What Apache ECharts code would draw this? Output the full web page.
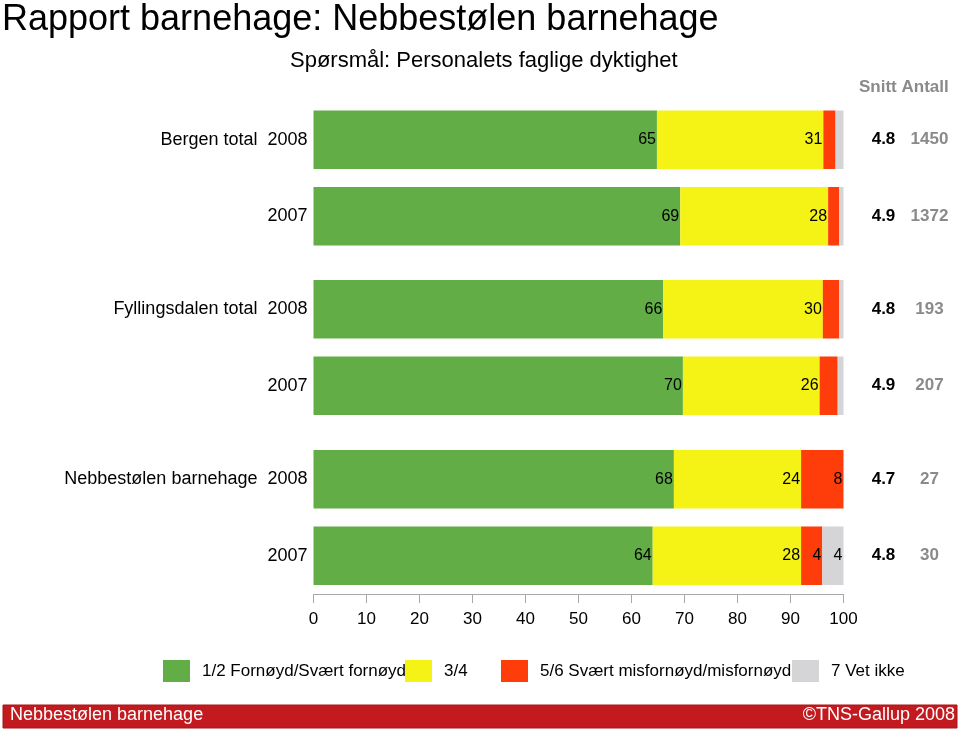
<!DOCTYPE html>
<html>
<head>
<meta charset="utf-8">
<script src="https://cdn.jsdelivr.net/npm/echarts@6/dist/echarts.min.js"></script>
<style>
html,body{margin:0;padding:0;background:#fff;}
#chart{width:960px;height:731px;}
</style>
</head>
<body>
<div id="chart"></div>
<script>
// ---- data ----
const groups = ['Bergen total', 'Fyllingsdalen total', 'Nebbestølen barnehage'];
const years = ['2008', '2007'];
const seriesNames = ['1/2 Fornøyd/Svært fornøyd', '3/4', '5/6 Svært misfornøyd/misfornøyd', '7 Vet ikke'];
const fornoyd    = [64.8, 69.2, 66.0, 69.7, 68.0, 64.0];
const middels    = [31.4, 27.9, 30.1, 25.8, 24.0, 28.0];
const misfornoyd = [2.3, 2.1, 3.1, 3.4, 8.0, 4.0];
const vetIkke    = [1.5, 0.8, 0.8, 1.1, 0.0, 4.0];
const snitt  = ['4.8', '4.9', '4.8', '4.9', '4.7', '4.8'];
const antall = ['1450', '1372', '193', '207', '27', '30'];
const xTicks = [0, 10, 20, 30, 40, 50, 60, 70, 80, 90, 100];

const colors = ['#62AD45', '#F5F216', '#FF3D0A', '#D5D5D8'];
const valueSets = [fornoyd, middels, misfornoyd, vetIkke];
const FONT = '"Liberation Sans", Arial, Helvetica, sans-serif';

const chart = echarts.init(document.getElementById('chart'), null, {renderer: 'canvas'});

const gridTops = [101.5, 271, 441];
const grids = [], xAxes = [], yAxes = [], series = [];
groups.forEach((g, gi) => {
  grids.push({left: 313.5, right: 116.5, top: gridTops[gi], height: 153, containLabel: false});
  xAxes.push({
    type: 'value', gridIndex: gi, min: 0, max: 100, interval: 10,
    show: gi === 2,
    axisLine: {show: true, lineStyle: {color: '#a8a8a8', width: 1}},
    axisTick: {show: true, length: 9, lineStyle: {color: '#a8a8a8'}},
    splitLine: {show: false},
    axisLabel: {show: true, fontSize: 17, color: '#000', fontFamily: FONT, margin: 17,
      formatter: v => xTicks.includes(v) ? String(v) : ''}
  });
  const cats = years.map((y, yi) => yi === 0 ? g + '  ' + y : y);
  yAxes.push({
    type: 'category', gridIndex: gi, data: cats, inverse: true,
    axisLine: {show: false}, axisTick: {show: false}, splitLine: {show: false},
    axisLabel: {fontSize: 18, color: '#000', fontFamily: FONT, margin: 6}
  });
  yAxes.push({
    type: 'category', gridIndex: gi, position: 'right', data: cats, inverse: true,
    axisLine: {show: false}, axisTick: {show: false}, splitLine: {show: false},
    axisLabel: {
      margin: 27, fontFamily: FONT,
      formatter: (v, idx) => {
        const k = gi * 2 + idx;
        return '{s|' + snitt[k] + '}{a|' + antall[k] + '}';
      },
      rich: {
        s: {width: 26, align: 'center', fontSize: 17, fontWeight: 'bold', color: '#000', fontFamily: FONT},
        a: {width: 66, align: 'center', fontSize: 17, fontWeight: 'bold', color: '#8a8a8a', fontFamily: FONT}
      }
    }
  });
  valueSets.forEach((vals, si) => {
    series.push({
      type: 'bar', name: seriesNames[si], stack: 'g' + gi,
      xAxisIndex: gi, yAxisIndex: gi * 2,
      barWidth: 58.5,
      itemStyle: {color: colors[si]},
      label: {
        show: true, position: 'insideRight', distance: 1,
        fontSize: 16, color: '#000', fontFamily: FONT,
        formatter: p => Math.round(p.value) >= 4 ? String(Math.round(p.value)) : ''
      },
      emphasis: {disabled: true},
      data: [vals[gi * 2], vals[gi * 2 + 1]]
    });
  });
});

const legendLefts = [158, 400, 496, 787];
const legends = seriesNames.map((n, i) => ({
  data: [n], left: legendLefts[i], top: 655,
  itemWidth: 27, itemHeight: 22, icon: 'rect', selectedMode: false,
  textStyle: {fontSize: 17, color: '#000', fontFamily: FONT, padding: [0, 0, 0, 7]}
}));

chart.setOption({
  animation: false,
  backgroundColor: '#fff',
  title: [
    {text: 'Rapport barnehage: Nebbestølen barnehage', left: -3, top: -3,
      textStyle: {fontSize: 36, fontWeight: 'normal', color: '#000', fontFamily: FONT}},
    {text: 'Spørsmål: Personalets faglige dyktighet', left: 285, top: 45,
      textStyle: {fontSize: 22, fontWeight: 'normal', color: '#000', fontFamily: FONT}},
    {text: 'Snitt Antall', left: 854, top: 74,
      textStyle: {fontSize: 17, fontWeight: 'bold', color: '#8a8a8a', fontFamily: FONT}}
  ],
  legend: legends,
  grid: grids,
  xAxis: xAxes,
  yAxis: yAxes,
  series: series,
  graphic: [
    {type: 'rect', shape: {x: 3, y: 705, width: 954, height: 23}, style: {fill: '#C21A1F', stroke: '#A5161A', lineWidth: 1}},
    {type: 'text', left: 10, top: 706, style: {text: 'Nebbestølen barnehage', fill: '#fff', fontSize: 18, fontFamily: FONT}},
    {type: 'text', right: 5, top: 706, style: {text: '©TNS-Gallup 2008', fill: '#fff', fontSize: 18, fontFamily: FONT}}
  ]
});
</script>
</body>
</html>
